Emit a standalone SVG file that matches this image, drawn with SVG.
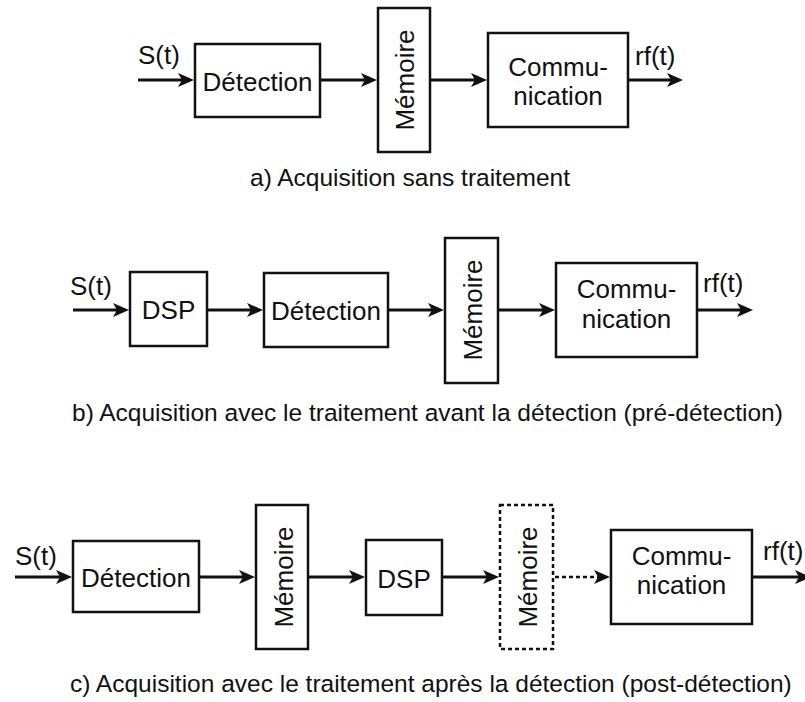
<svg xmlns="http://www.w3.org/2000/svg" width="805" height="702" viewBox="0 0 805 702">
<style>
.box{fill:#fff;stroke:#111;stroke-width:2.5}
.dbox{fill:#fff;stroke:#111;stroke-width:2.5;stroke-dasharray:4 3}
.t{font-family:"Liberation Sans",Arial,Helvetica,sans-serif;font-size:26px;fill:#111}
.c{text-anchor:middle}
.cap{font-family:"Liberation Sans",Arial,Helvetica,sans-serif;font-size:24.5px;fill:#111}
.ln{stroke:#111;stroke-width:3;fill:none;marker-end:url(#ah)}
.dln{stroke:#111;stroke-width:2.5;fill:none;stroke-dasharray:4 3;marker-end:url(#ah)}
</style>
<defs>
<marker id="ah" markerUnits="userSpaceOnUse" viewBox="0 0 16 14" refX="6" refY="7" markerWidth="16" markerHeight="14" orient="auto">
<path d="M0,0 L16,7 L0,14 L4,7 z" fill="#111" stroke="none"/>
</marker>
</defs>
<rect width="805" height="702" fill="#fff"/>

<g id="connectors">
<line class="ln" x1="138" y1="80" x2="184" y2="80"/>
<line class="ln" x1="321" y1="80" x2="367" y2="80"/>
<line class="ln" x1="431" y1="80" x2="477" y2="80"/>
<line class="ln" x1="629" y1="80" x2="673" y2="80"/>

<line class="ln" x1="73" y1="310" x2="119" y2="310"/>
<line class="ln" x1="208" y1="310" x2="253" y2="310"/>
<line class="ln" x1="389" y1="310" x2="434" y2="310"/>
<line class="ln" x1="499" y1="310" x2="545" y2="310"/>
<line class="ln" x1="698" y1="310" x2="743" y2="310"/>

<line class="ln" x1="15" y1="577" x2="62" y2="577"/>
<line class="ln" x1="200" y1="577" x2="245" y2="577"/>
<line class="ln" x1="309" y1="577" x2="355" y2="577"/>
<line class="ln" x1="443" y1="577" x2="489" y2="577"/>
<line class="dln" x1="555" y1="577" x2="600" y2="577"/>
<line class="ln" x1="753" y1="577" x2="801" y2="577"/>
</g>

<g id="a-labels">
<text class="t" x="138" y="64">S(t)</text>
<text class="t" x="635" y="65">rf(t)</text>
</g>
<g id="a-detection"><rect class="box" x="195" y="44" width="125" height="73"/><text class="t c" x="257.5" y="91">Détection</text></g>
<g id="a-memoire"><rect class="box" x="378" y="8" width="52" height="144"/><text class="t c" transform="translate(414,80) rotate(-90)">Mémoire</text></g>
<g id="a-communication"><rect class="box" x="488" y="33" width="140" height="94"/><text class="t c" x="558" y="76">Commu-</text><text class="t c" x="558" y="105">nication</text></g>
<text class="cap" x="250" y="186">a) Acquisition sans traitement</text>

<g id="b-labels">
<text class="t" x="70" y="295">S(t)</text>
<text class="t" x="703" y="292">rf(t)</text>
</g>
<g id="b-dsp"><rect class="box" x="130" y="272" width="77" height="74"/><text class="t c" x="168.5" y="319">DSP</text></g>
<g id="b-detection"><rect class="box" x="264" y="273" width="124" height="74"/><text class="t c" x="326" y="320">Détection</text></g>
<g id="b-memoire"><rect class="box" x="445" y="238" width="53" height="145"/><text class="t c" transform="translate(482,310) rotate(-90)">Mémoire</text></g>
<g id="b-communication"><rect class="box" x="556" y="263" width="141" height="94"/><text class="t c" x="626.5" y="298">Commu-</text><text class="t c" x="626.5" y="328">nication</text></g>
<text class="cap" x="72" y="421">b) Acquisition avec le traitement avant la détection (pré-détection)</text>

<g id="c-labels">
<text class="t" x="15" y="565">S(t)</text>
<text class="t" x="763" y="560">rf(t)</text>
</g>
<g id="c-detection"><rect class="box" x="73" y="541" width="126" height="71"/><text class="t c" x="136" y="587">Détection</text></g>
<g id="c-memoire"><rect class="box" x="256" y="505" width="52" height="144"/><text class="t c" transform="translate(293,577) rotate(-90)">Mémoire</text></g>
<g id="c-dsp"><rect class="box" x="366" y="540" width="76" height="75"/><text class="t c" x="404" y="587.5">DSP</text></g>
<g id="c-memoire-opt"><rect class="dbox" x="500" y="505" width="53" height="144"/><text class="t c" transform="translate(537,577) rotate(-90)">Mémoire</text></g>
<g id="c-communication"><rect class="box" x="611" y="530" width="141" height="94"/><text class="t c" x="681.5" y="565">Commu-</text><text class="t c" x="681.5" y="594">nication</text></g>
<text class="cap" x="70" y="692">c) Acquisition avec le traitement après la détection (post-détection)</text>
</svg>
